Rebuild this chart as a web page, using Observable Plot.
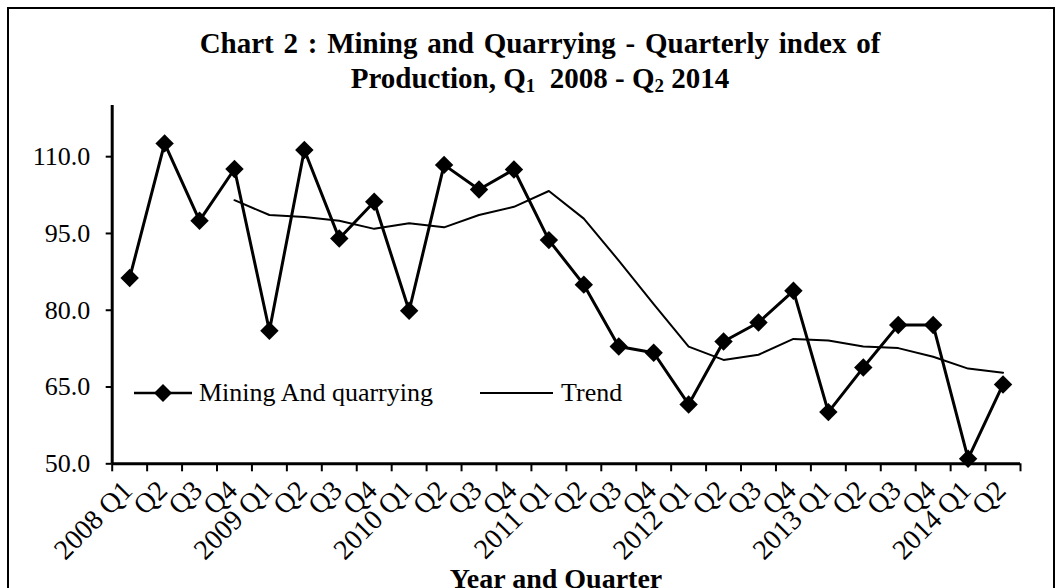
<!DOCTYPE html>
<html>
<head>
<meta charset="utf-8">
<script src="https://cdn.jsdelivr.net/npm/d3@7"></script>
<script src="https://cdn.jsdelivr.net/npm/@observablehq/plot@0.6"></script>
<style>
  html, body { margin: 0; padding: 0; background: #fff; }
  #wrap { position: relative; width: 1064px; height: 588px; overflow: hidden; background: #fff; font-family: "Liberation Serif", "Times New Roman", serif; color: #000; }
  #frame { position: absolute; left: 7px; top: 7px; width: 1048px; height: 640px; border: 2px solid #000; box-sizing: border-box; }
  #title { position: absolute; left: 0; width: 1080px; top: 26px; text-align: center; font-weight: bold; font-size: 29px; line-height: 35px; }
  #title .l1 { word-spacing: 2.5px; }
  #title sub { font-size: 19px; vertical-align: -4px; line-height: 0; }
  #xlabel { position: absolute; left: 356px; width: 400px; top: 564px; text-align: center; font-weight: bold; font-size: 28px; line-height: 30px; }
  #chart { position: absolute; left: 0; top: 0; }
</style>
</head>
<body>
<div id="wrap">
  <div id="frame"></div>
  <div id="chart"></div>
  <div id="title"><span class="l1">Chart 2 : Mining and Quarrying - Quarterly index of</span><br>Production, Q<sub>1</sub>&nbsp; 2008 - Q<sub>2</sub> 2014</div>
  <div id="xlabel">Year and Quarter</div>
</div>
<script>
const quarters = ["2008 Q1","Q2","Q3","Q4","2009 Q1","Q2","Q3","Q4","2010 Q1","Q2","Q3","Q4",
  "2011 Q1","Q2","Q3","Q4","2012 Q1","Q2","Q3","Q4","2013 Q1","Q2","Q3","Q4","2014 Q1","Q2"];
const mining = [86.3,112.6,97.5,107.6,76.0,111.3,94.0,101.2,79.9,108.4,103.6,107.5,
  93.7,85.0,72.9,71.7,61.6,73.9,77.6,83.8,60.1,68.8,77.1,77.1,51.0,65.5];
const trend = [null,null,null,101.5,98.6,98.2,97.5,95.9,97.0,96.2,98.6,100.2,
  103.3,97.9,89.7,81.2,72.9,70.3,71.3,74.4,74.1,72.9,72.6,70.9,68.6,67.8];
const yTicks = [50,65,80,95,110];
const seriesNames = ["Mining And quarrying", "Trend"];

const idx = quarters.map((_, i) => i);
const bounds = d3.range(quarters.length + 1).map(i => i - 0.5);
const miningData = idx.map(i => ({i, v: mining[i]}));
const trendData = idx.filter(i => trend[i] != null).map(i => ({i, v: trend[i]}));

const chart = Plot.plot({
  width: 1064,
  height: 588,
  marginLeft: 111.7,
  marginRight: 44,
  marginTop: 105,
  marginBottom: 124.7,
  style: {fontFamily: "Liberation Serif, Times New Roman, serif", fontSize: "26px", color: "#000", background: "transparent", overflow: "visible"},
  x: {type: "linear", domain: [-0.5, quarters.length - 0.5]},
  y: {domain: [50, 120]},
  marks: [
    Plot.axisY({ticks: yTicks, tickFormat: d => d.toFixed(1), tickSize: 6, tickPadding: 16, fontSize: 26, strokeWidth: 2, label: null}),
    Plot.axisX({ticks: bounds, tickFormat: () => "", tickSize: 8, strokeWidth: 2, label: null}),
    Plot.axisX({ticks: idx, tickFormat: i => quarters[i], tickSize: 0, tickPadding: 22, dx: -2, tickRotate: -45, textAnchor: "end", fontSize: 28, label: null}),
    Plot.ruleX([-0.5], {y1: 50, y2: 120, strokeWidth: 3}),
    Plot.ruleY([50], {strokeWidth: 3}),
    Plot.line(trendData, {x: "i", y: "v", stroke: "#000", strokeWidth: 2}),
    Plot.line(miningData, {x: "i", y: "v", stroke: "#000", strokeWidth: 3}),
    Plot.dot(miningData, {x: "i", y: "v", symbol: "diamond2", r: 8.3, fill: "#000", stroke: "none"})
  ]
});
document.getElementById("chart").appendChild(chart);

// legend
const svg = d3.select(chart);
const lg = svg.append("g").attr("font-family", "Liberation Serif, Times New Roman, serif").attr("font-size", 26).attr("fill", "#000").attr("text-anchor", "start");
const ly = 393;
lg.append("line").attr("x1", 134).attr("x2", 192).attr("y1", ly).attr("y2", ly).attr("stroke", "#000").attr("stroke-width", 2.5);
lg.append("path").attr("d", d3.symbol(d3.symbolDiamond2, 206)()).attr("transform", `translate(163,${ly})`).attr("fill", "#000");
lg.append("text").attr("x", 199).attr("y", ly + 8).text(seriesNames[0]);
lg.append("line").attr("x1", 480).attr("x2", 553).attr("y1", ly).attr("y2", ly).attr("stroke", "#000").attr("stroke-width", 2);
lg.append("text").attr("x", 561).attr("y", ly + 8).text(seriesNames[1]);
</script>
</body>
</html>
